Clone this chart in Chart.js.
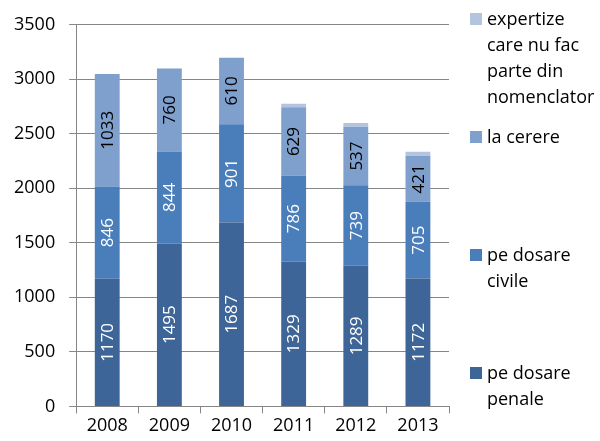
<!DOCTYPE html>
<html lang="ro">

<head>
  <meta charset="UTF-8">
  <title>Expertize</title>
  <script src="https://cdn.jsdelivr.net/npm/chart.js"></script>
</head>

<body>
  <div class="container">
    <canvas id="myChart" width="600" height="441"></canvas>
    <div id="legenda"></div>
  </div>

<script>
  const ani = ['2008', '2009', '2010', '2011', '2012', '2013'];
  const penale = [1170, 1495, 1687, 1329, 1289, 1172];
  const civile = [846, 844, 901, 786, 739, 705];
  const la_cerere = [1033, 760, 610, 629, 537, 421];
  const expertize = [0, 0, 0, 32, 35, 38];
  const ticks_y = [0, 500, 1000, 1500, 2000, 2500, 3000, 3500];

  const fonte = '"Open Sans", "Noto Sans", sans-serif';

  const serii = [
    { label: 'pe dosare penale', data: penale, culoare: '#3E6597', text: '#ffffff', etichete: true },
    { label: 'pe dosare civile', data: civile, culoare: '#4A7EBB', text: '#ffffff', etichete: true },
    { label: 'la cerere', data: la_cerere, culoare: '#7F9FCD', text: '#000000', etichete: true },
    { label: 'expertize care nu fac parte din nomenclator', data: expertize, culoare: '#B3C4DF', text: '#000000', etichete: false }
  ];

  // etichete rotite in mijlocul fiecarui segment
  const etichetePlugin = {
    id: 'etichete',
    afterDatasetsDraw(chart) {
      const c = chart.ctx;
      chart.data.datasets.forEach((ds, i) => {
        if (!serii[i].etichete) return;
        chart.getDatasetMeta(i).data.forEach((bar, j) => {
          const mijloc = (bar.y + bar.base) / 2;
          c.save();
          c.translate(bar.x, mijloc);
          c.rotate(-Math.PI / 2);
          c.fillStyle = serii[i].text;
          c.font = '17px ' + fonte;
          c.textAlign = 'center';
          c.textBaseline = 'middle';
          c.fillText(String(ds.data[j]), 0, 1);
          c.restore();
        });
      });
    }
  };

  const ctx = document.getElementById('myChart');

  new Chart(ctx, {
    type: 'bar',
    data: {
      labels: ani,
      datasets: serii.map(s => ({
        label: s.label,
        data: s.data,
        backgroundColor: s.culoare,
        barPercentage: 0.4,
        categoryPercentage: 1
      }))
    },
    options: {
      responsive: false,
      animation: false,
      layout: { padding: { left: 0, right: 151, top: 10, bottom: 2 } },
      plugins: {
        legend: { display: false },
        tooltip: { enabled: false }
      },
      scales: {
        x: {
          stacked: true,
          grid: { drawOnChartArea: false, tickLength: 7, color: '#868686' },
          border: { color: '#868686' },
          ticks: { color: '#000', font: { family: fonte, size: 18 }, padding: 2 }
        },
        y: {
          stacked: true,
          min: 0,
          max: 3500,
          afterBuildTicks: axis => { axis.ticks = ticks_y.map(v => ({ value: v })); },
          grid: { tickLength: 7, color: '#868686' },
          border: { color: '#868686' },
          ticks: {
            color: '#000',
            font: { family: fonte, size: 18 },
            padding: 14,
            callback: v => String(v)
          }
        }
      }
    },
    plugins: [etichetePlugin]
  });

  // legenda in ordine inversa, ca in original
  const legenda = document.getElementById('legenda');
  const pozitii = [367, 249, 131, 13];
  serii.forEach((s, i) => {
    legenda.innerHTML += `<div class="item" style="top:${pozitii[i]}px">
      <span class="patrat" style="background:${s.culoare}"></span>
      <span class="text">${s.label}</span>
    </div>`;
  });
</script>

<style>
  body {
    margin: 0;
    background: #fff;
  }

  .container {
    position: relative;
    width: 600px;
    height: 441px;
  }

  #legenda .item {
    position: absolute;
    left: 470px;
    width: 130px;
    font-family: "Open Sans", "Noto Sans", sans-serif;
    font-size: 18px;
    line-height: 26px;
    color: #000;
  }

  .patrat {
    position: absolute;
    left: 0;
    top: 0;
    width: 12px;
    height: 12px;
  }

  .item .text {
    display: block;
    margin-left: 17px;
    margin-top: -8px;
  }
</style>
</body>

</html>
